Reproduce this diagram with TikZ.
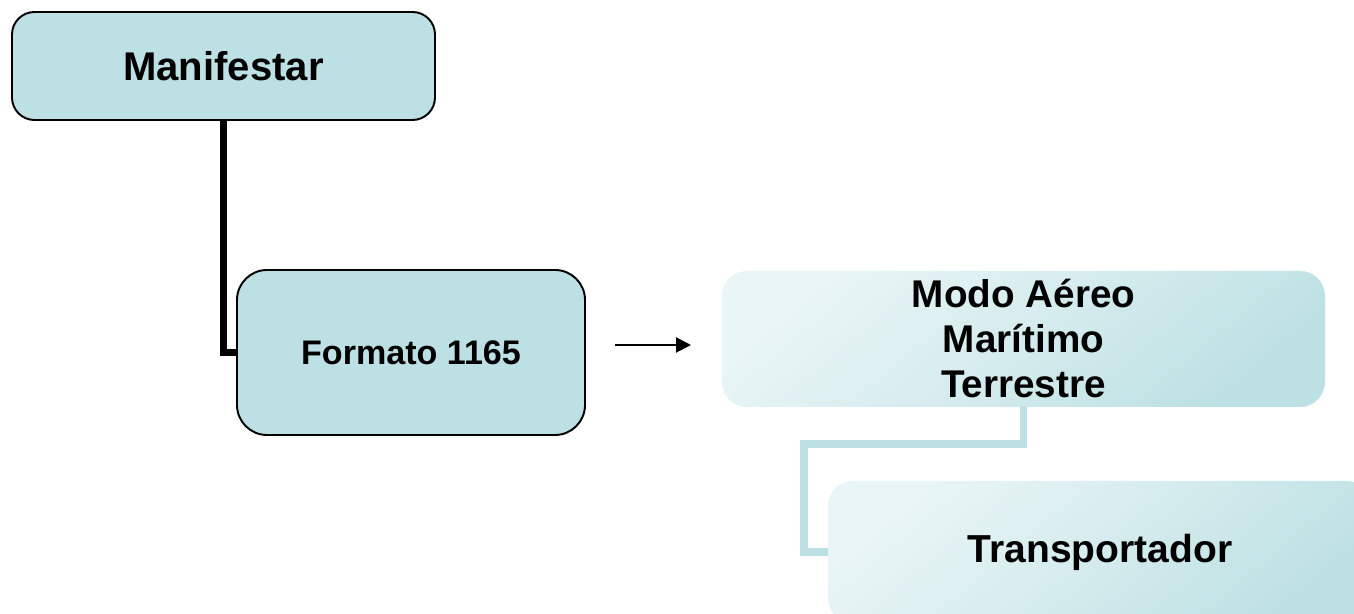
\documentclass[tikz,border=0pt]{standalone}
\usepackage{fontspec}
\setmainfont{Liberation Sans}
\usepackage{xcolor}
\usepackage{tikz}
\usetikzlibrary{arrows.meta}

\definecolor{tealbox}{HTML}{BCE0E3}
\definecolor{teallight}{HTML}{E9F5F6}

\begin{document}
\begin{tikzpicture}[
    solidbox/.style={draw=black, line width=1.1pt, fill=tealbox, rounded corners=0.45cm, align=center, font=\bfseries},
    fadebox/.style={rounded corners=0.5cm, align=center, font=\bfseries, left color=teallight, right color=tealbox, middle color=teallight!55!tealbox, shading angle=40}
  ]
            \clip (0,0) rectangle (27.08,12.28);

            \node[solidbox, minimum width=8.46cm, minimum height=2.16cm, font=\fontsize{22.8}{26}\selectfont\bfseries] (man) at (4.47, 10.96) {Manifestar};
            \node[solidbox, minimum width=6.96cm, minimum height=3.3cm, rounded corners=0.6cm, font=\fontsize{19.4}{23}\selectfont\bfseries] (fmt) at (8.22, 5.23) {Formato 1165};
            \node[fadebox, minimum width=12.06cm, minimum height=2.72cm, font=\fontsize{22}{25.6}\selectfont\bfseries] (modo) at (20.47, 5.5) {Modo Aéreo\\Marítimo\\Terrestre};
            \node[fadebox, minimum width=10.88cm, minimum height=2.84cm, font=\fontsize{22.2}{26}\selectfont\bfseries] (tra) at (22.0, 1.24) {Transportador};

            \coordinate (arrS) at (12.3, 5.38);
            \coordinate (arrE) at (13.82, 5.38);
            \coordinate (bend) at (16.08, 3.4);

            \draw[line width=3.6pt] (man.south) |- (fmt.west);
            \draw[-{Triangle[length=0.3cm, width=0.3cm]}, line width=1.2pt] (arrS) -- (arrE);
            \draw[tealbox, line width=4.2pt] (modo.south) |- (bend) |- (tra.west);
        \end{tikzpicture}
\end{document}
